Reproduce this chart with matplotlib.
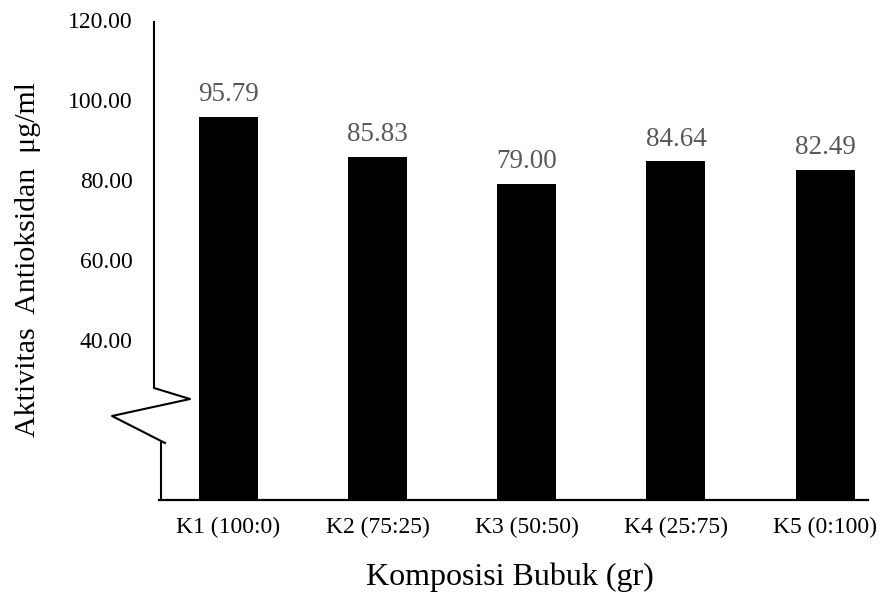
import matplotlib
matplotlib.use("Agg")
import matplotlib.pyplot as plt
from matplotlib.lines import Line2D

plt.rcParams['font.family'] = ['Liberation Serif', 'DejaVu Serif']

categories = ["K1 (100:0)", "K2 (75:25)", "K3 (50:50)", "K4 (25:75)", "K5 (0:100)"]
values = [95.79, 85.83, 79.00, 84.64, 82.49]
ytick_values = [40, 60, 80, 100, 120]
ytick_labels = ["40.00", "60.00", "80.00", "100.00", "120.00"]

W, H = 891, 596
fig = plt.figure(figsize=(W / 100, H / 100), dpi=100)
# axes in pixel coordinates
ax_left, ax_right, ax_top, ax_bottom = 159, 868, 20, 500
ax = fig.add_axes([ax_left / W, 1 - ax_bottom / H, (ax_right - ax_left) / W, (ax_bottom - ax_top) / H])

x = list(range(len(categories)))
ax.bar(x, values, width=0.395, color="black")
for xi, v in zip(x, values):
    ax.annotate(f"{v:.2f}", (xi, v), xytext=(0, 7), textcoords="offset points",
                ha="center", va="bottom", fontsize=19.5, color="#595959")

ax.set_xlim(-0.466, 4.288)
ax.set_ylim(0, 120)
ax.set_yticks(ytick_values)
ax.set_yticklabels(ytick_labels, fontsize=17)
ax.set_xticks(x)
ax.set_xticklabels(categories, fontsize=17)
ax.tick_params(axis="y", length=0, pad=19)
ax.tick_params(axis="x", length=0, pad=12)

for s in ["top", "right", "left"]:
    ax.spines[s].set_visible(False)
ax.spines["bottom"].set_linewidth(1.6)

# broken y axis drawn in figure pixel coordinates
def px(xp, yp):
    return xp / W, 1 - yp / H

pts_upper = [(154, 22), (154, 388), (190, 399), (112, 416), (165, 443)]
pts_lower = [(161, 443), (161, 500)]
for pts in (pts_upper, pts_lower):
    xs = [px(a, b)[0] for a, b in pts]
    ys = [px(a, b)[1] for a, b in pts]
    fig.add_artist(Line2D(xs, ys, transform=fig.transFigure, color="black", lw=1.5))

fig.text(28 / W, 1 - 260 / H, "Aktivitas  Antioksidan  μg/ml", rotation=90,
         ha="center", va="center", fontsize=21.5)
fig.text(510 / W, 1 - 577 / H, "Komposisi Bubuk (gr)", ha="center", va="center", fontsize=23)

fig.savefig("out.png", dpi=100)
